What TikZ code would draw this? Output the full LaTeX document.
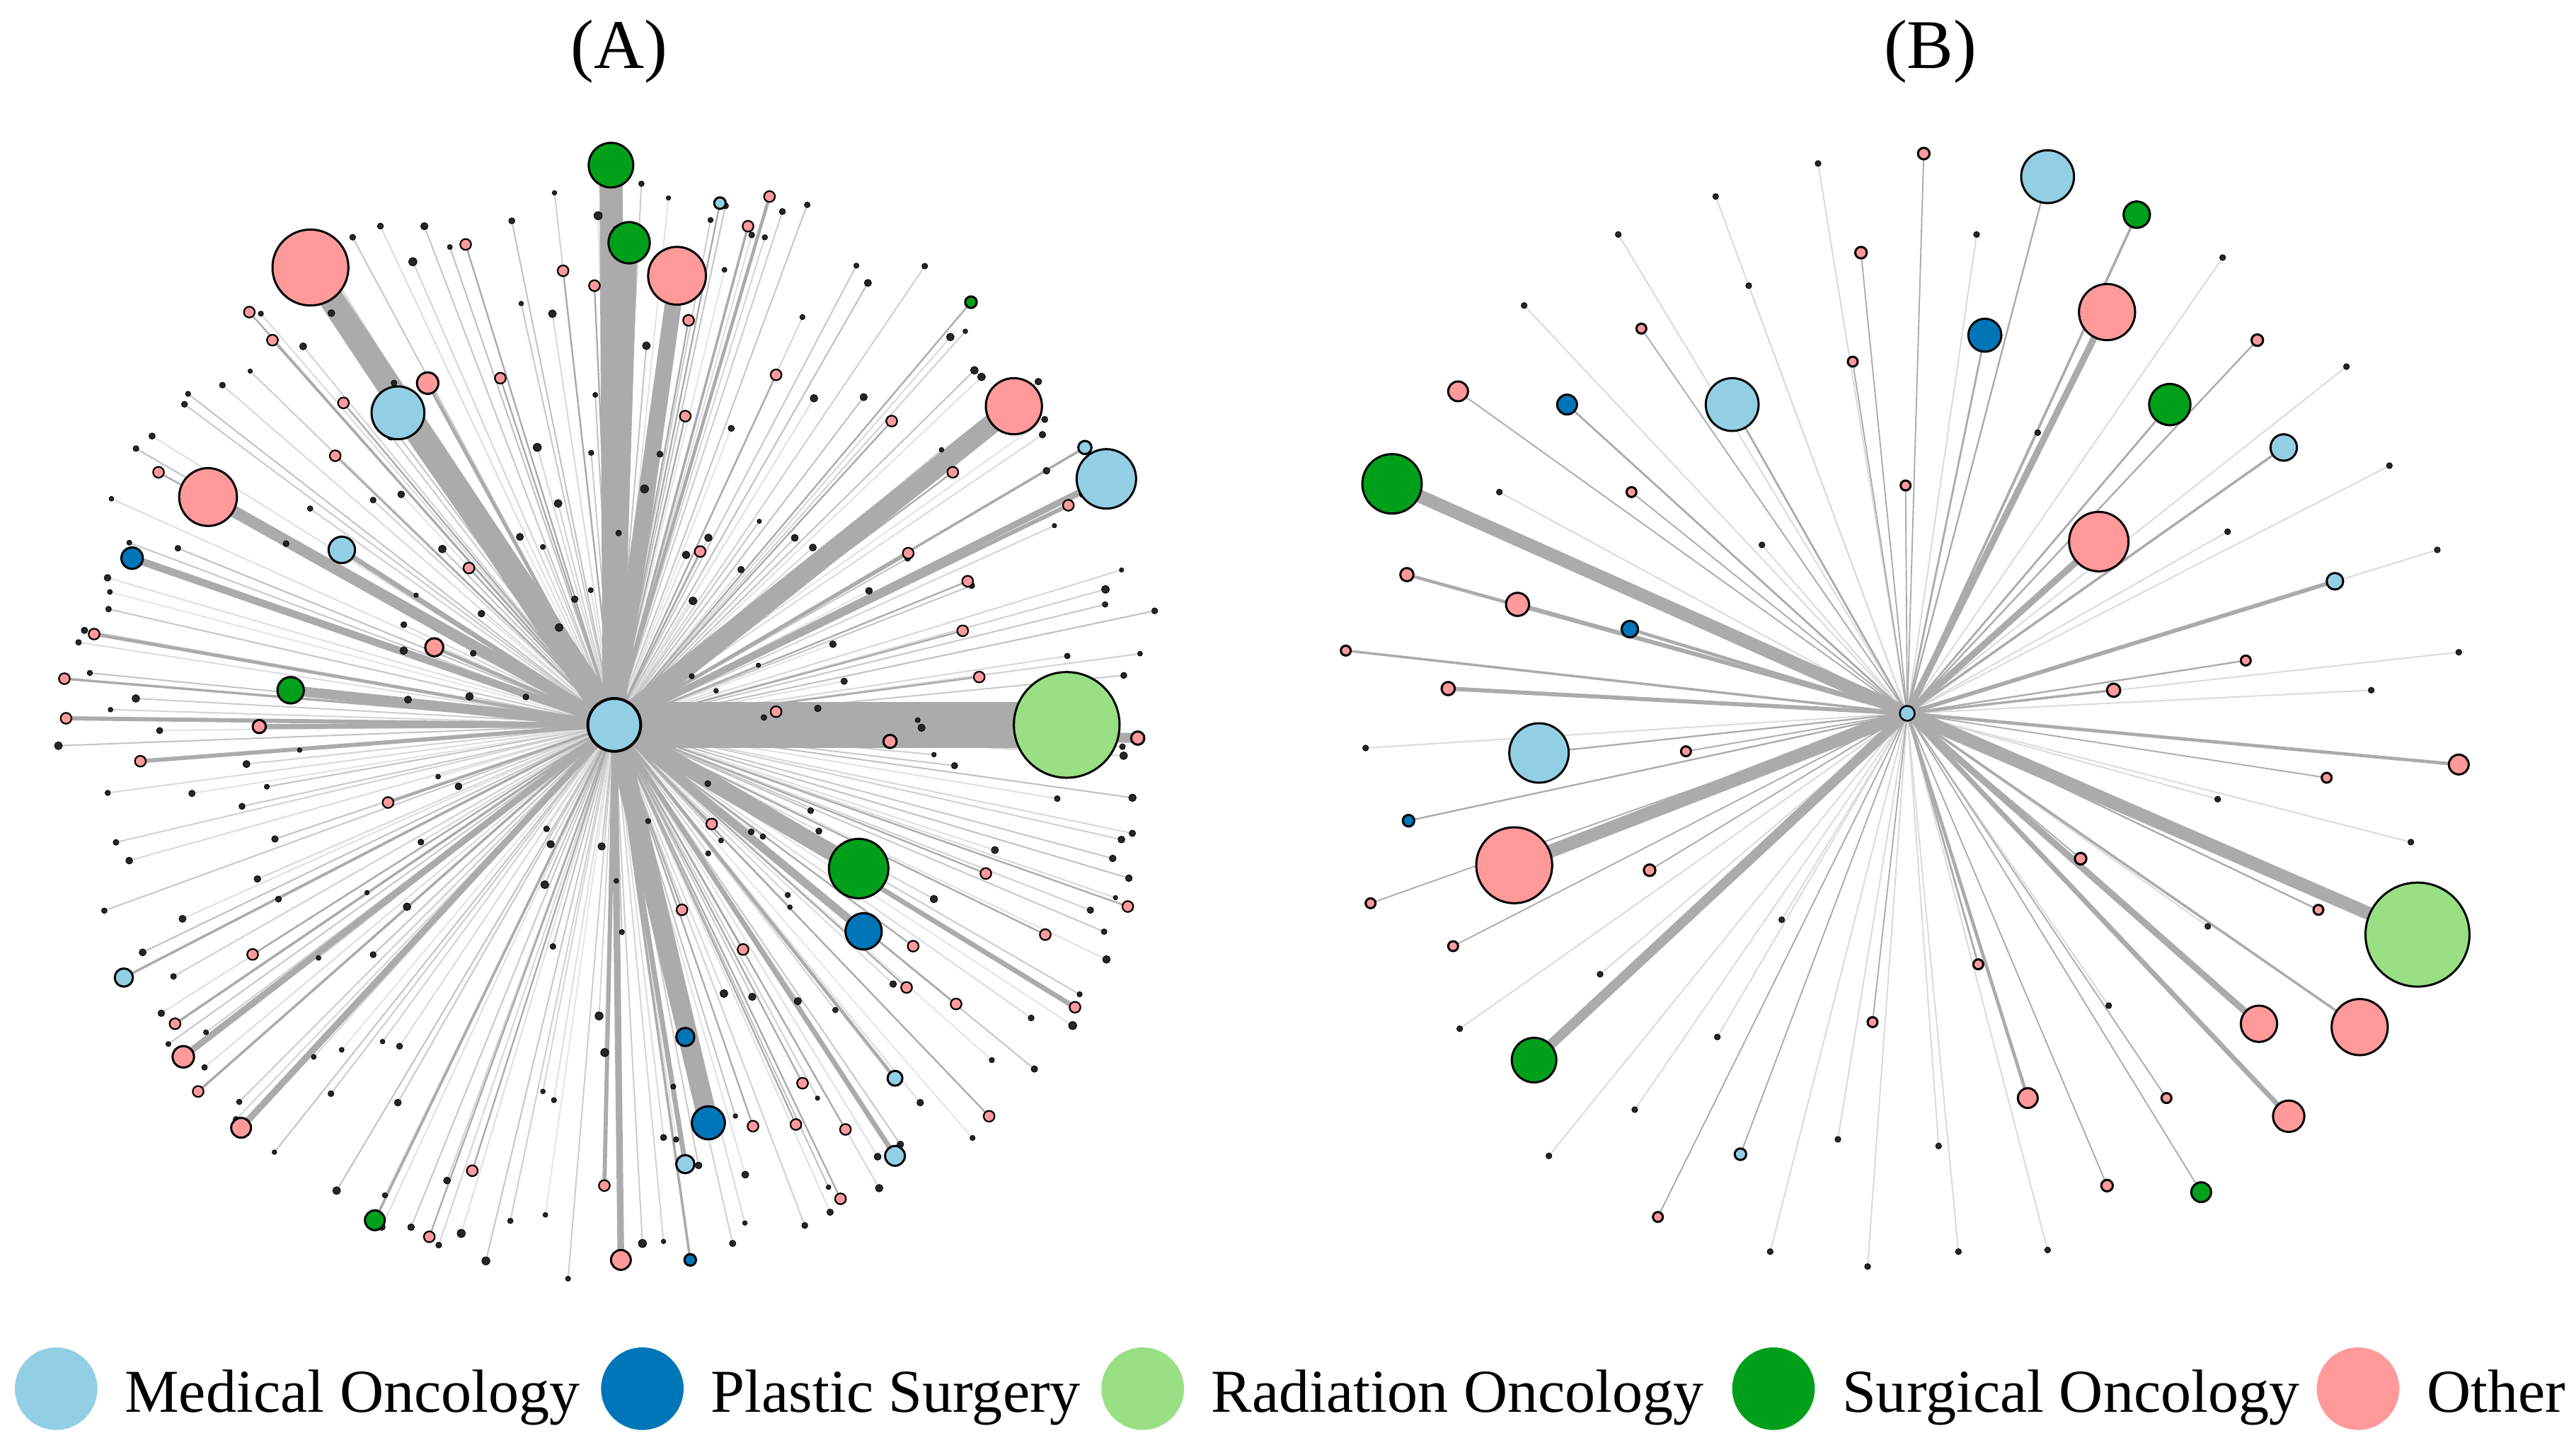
\documentclass[tikz,border=0pt]{standalone}
\usepackage{fontspec}
\setmainfont{Liberation Serif}
\usetikzlibrary{backgrounds}
\definecolor{medonc}{HTML}{93CFE4}
\definecolor{plast}{HTML}{0076B8}
\definecolor{radonc}{HTML}{99DF84}
\definecolor{surgonc}{HTML}{00A01A}
\definecolor{outra}{HTML}{FF999A}
\definecolor{faixacor}{HTML}{ABABAB}
% vizinhos coloridos de (A): x/y/raio/cor/largura da aresta
\newcommand\listaA{
  188/162/23/outra/15, 370/100/13.5/surgonc/14, 381/147/12.5/surgonc/10,
  410/167/17.5/outra/10, 241/250/16/medonc/9, 259/232/6.5/outra/2,
  614/246/17/outra/12, 657/271/4/medonc/1.5, 670/290/18/medonc/4,
  126/301/17.5/outra/7, 207/333/8/medonc/3, 80/338/6.5/plast/4.5,
  263/392/5.5/outra/2, 176/418/8/surgonc/6, 646/439/32/radonc/28,
  689/447/4/outra/6, 539/449/4/outra/2, 157/440/4/outra/3,
  520/526/18/surgonc/10, 523/564/11/plast/5, 415/628/5.5/plast/2,
  429/680/10/plast/12, 415/705/5.5/medonc/3, 542/653/4.5/medonc/2,
  542/700/6/medonc/3, 75/592/5.5/medonc/1.5, 111/640/6.5/outra/4,
  146/683/6/outra/4, 227/739/6/surgonc/1.5, 376/763/6/outra/4,
  418/763/3.5/plast/1.5, 436/123/3.5/medonc/1, 588/183/3.5/surgonc/1}
% bolinhas rosas pequenas de (A): x/y/largura
\newcommand\rosasA{
  282/148/1, 341/164/1, 360/173/1, 151/189/1, 165/206/1, 303/229/1,
  208/244/1, 203/276/1, 96/286/1, 284/344/1, 57/384/2, 39/411/1.5,
  40/435/2.5, 85/461/2.5, 235/486/1.5, 153/578/1, 106/620/1.5, 120/661/1.5,
  286/709/1, 260/749/1, 366/718/2.5, 466/119/2, 453/137/1.5, 417/194/1,
  470/227/1, 415/252/1, 540/255/1, 577/286/1, 647/306/2.5, 550/335/2,
  586/352/1, 424/334/1, 583/382/1, 593/410/1, 470/431/1, 431/499/1,
  597/529/1, 413/551/1, 683/549/1, 633/566/1, 553/573/1, 450/575/1,
  549/598/1, 579/608/1, 651/610/3, 486/656/1, 599/676/1, 456/682/1,
  482/681/1, 512/684/1, 509/726/1}
% vizinhos coloridos de (B)
\newcommand\listaB{
  1240/107/16/medonc/1, 1294/130/8/surgonc/1.5, 1165/93/3.5/outra/0.8,
  1127/153/3.5/outra/0.8, 1276/189/17/outra/4, 1202/203/10/plast/1.2,
  1367/206/3.5/outra/1, 994/199/3/outra/0.8, 1122/219/3/outra/0.8,
  883/237/6/outra/0.8, 949/245/6/plast/1.2, 1049/245/16/medonc/1.2,
  1314/245/12.5/surgonc/1.2, 1383/271/8/medonc/1.5, 843/293/18/surgonc/8,
  988/298/3/outra/0.8, 1154/294/3/outra/0.8, 1271/328/18/outra/4,
  852/348/4/outra/2, 919/366/7/outra/2.5, 987/381/5/plast/2,
  1414/352/5/medonc/2.5, 815/394/3/outra/1.5, 1360/400/3/outra/1,
  877/417/4/outra/2.5, 1280/418/4/outra/1.5, 932/456/18/medonc/1,
  1021/455/3/outra/0.8, 1489/463/6/outra/2, 1409/471/3/outra/0.8,
  853/497/3.5/plast/1, 917/524/23/outra/8, 999/527/3.5/outra/0.8,
  1260/520/3.5/outra/0.8, 830/547/3/outra/0.8, 1404/551/3/outra/1,
  1464/566/31.5/radonc/8, 880/573/3/outra/0.8, 1198/584/3/outra/1.2,
  1134/619/3/outra/0.8, 1368/620/11/outra/4, 1429/622/17/outra/1.5,
  929/642/13.5/surgonc/6, 1228/665/6/outra/2, 1312/665/3/outra/0.8,
  1386/676/9.5/outra/3, 1054/699/3.5/medonc/0.8, 1276/718/3.5/outra/0.8,
  1333/722/6/surgonc/0.8, 1004/737/3/outra/0.8}
% pontinhos pretos de (B)
\newcommand\pretosB{
  1101/99, 1039/119, 980/142, 1197/142, 1346/156, 1059/173, 923/185,
  1421/222, 1234/262, 908/298, 1447/282, 1067/330, 1349/322, 1476/333,
  1489/395, 1436/418, 827/453, 1343/484, 1460/510, 1337/561, 1079/557,
  969/590, 1277/609, 884/623, 1040/628, 990/672, 1113/690, 938/700,
  1174/694, 1072/758, 1131/767, 1186/758, 1240/757}
\begin{document}
\begin{tikzpicture}[x=0.023333cm,y=-0.023333cm,
    vert/.style={circle,draw=black,line width=0.03cm,inner sep=0pt,minimum size=#1*0.046667cm},
    ponto/.style={circle,fill=black!85,draw=black,line width=0.008cm,inner sep=0pt,minimum size=#1*0.046667cm},
    faixa/.style={draw=faixacor,line width=#1*0.023333cm},
    fio/.style={draw=gray!#1,line width=0.02cm}]
  \useasboundingbox (0,0) rectangle (1560,878);   % moldura

  % titulos
  \node[font=\fontsize{28}{30}\selectfont] (titA) at (375,31) {(A)};
  \node[font=\fontsize{28}{30}\selectfont] (titB) at (1169,31) {(B)};

  % ---------- rede (A) ----------
  \coordinate (cA) at (372,439);
  % pontinhos pretos (sorteados), antes dos coloridos
  \pgfmathsetseed{4217}
  \foreach \i in {1,...,230} {
    \pgfmathsetmacro\ang{\i*(360/230)+rnd}
    \pgfmathsetmacro\sorte{rnd}
    \pgfmathsetmacro\rr{\sorte<0.45 ? (305+32*rnd) : (55+255*rnd)}
    \pgfmathsetmacro\ds{1.3+1.2*rnd}
    \node[ponto=\ds] (p\i) at ([shift={(\ang:\rr)}]cA) {};
  }
  \foreach \x/\y/\w [count=\k] in \rosasA
    \node[vert=3.3,fill=outra,line width=0.022cm] (r\k) at (\x,\y) {};
  \foreach \x/\y/\r/\c/\w [count=\k] in \listaA
    \node[vert=\r,fill=\c] (a\k) at (\x,\y) {};
  \node[vert=16,fill=medonc,line width=0.04cm] (hubA) at (cA) {};  % centro

  % ---------- rede (B) ----------
  \node[vert=4.5,fill=medonc,line width=0.025cm] (hubB) at (1155,432) {};  % centro
  \foreach \x/\y/\r/\c/\w [count=\k] in \listaB
    \node[vert=\r,fill=\c] (b\k) at (\x,\y) {};
  \foreach \x/\y [count=\k] in \pretosB
    \node[ponto=1.8] (q\k) at (\x,\y) {};

  % arestas, todas por baixo
  \begin{pgfonlayer}{background}
    \foreach \i in {1,...,230} {
      \pgfmathtruncatemacro\tom{20+mod(\i*37,31)}
      \draw[fio=\tom] (hubA.center) -- (p\i);
    }
    \foreach \x/\y/\w [count=\k] in \rosasA
      \draw[faixa=\w] (hubA.center) -- (r\k.center);
    \foreach \x/\y/\r/\c/\w [count=\k] in \listaA
      \draw[faixa=\w] (hubA.center) -- (a\k.center);
    \foreach \x/\y [count=\k] in \pretosB
      \draw[fio=28] (hubB.center) -- (q\k);
    \foreach \x/\y/\r/\c/\w [count=\k] in \listaB
      \draw[faixa=\w] (hubB.center) -- (b\k.center);
  \end{pgfonlayer}

  % ---------- legenda ----------
  \foreach \x/\c/\t [count=\k] in {34/medonc/Medical Oncology, 389/plast/Plastic Surgery,
      692/radonc/Radiation Oncology, 1074/surgonc/Surgical Oncology, 1428/outra/Other} {
    \node[circle,fill=\c,inner sep=0pt,minimum size=50*0.023333cm] (leg\k) at (\x,841) {};
    \node[anchor=base west,inner sep=0pt,font=\fontsize{24.5}{27}\selectfont]
      (txt\k) at ([xshift=0.373cm,yshift=-0.327cm]leg\k.east) {\t};
  }
\end{tikzpicture}
\end{document}
